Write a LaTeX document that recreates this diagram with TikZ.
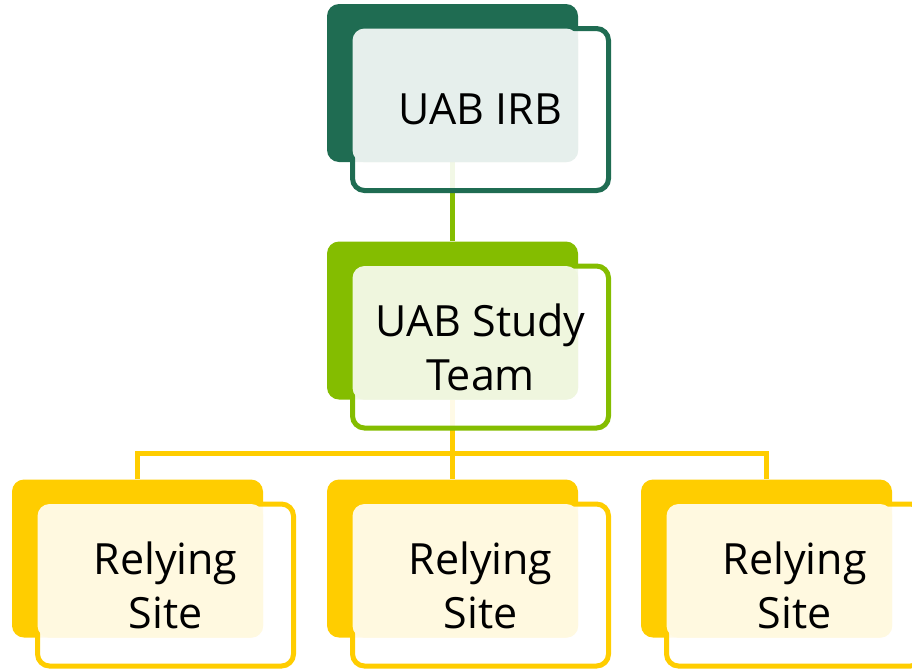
\documentclass[tikz,border=0pt]{standalone}
\usepackage{fontspec}
\setmainfont{Open Sans}
\usepackage{xcolor}
\definecolor{uabgreen}{RGB}{31,108,82}
\definecolor{uablime}{RGB}{132,189,0}
\definecolor{uabgold}{RGB}{255,205,0}
\usetikzlibrary{backgrounds}

\begin{document}
\begin{tikzpicture}[x=1pt,y=-1pt]
	\tikzstyle{back}=[rounded corners=12pt,minimum width=251pt,minimum height=158pt,inner sep=0pt];
	\tikzstyle{front}=[line width=5pt,rounded corners=12pt,minimum width=256pt,minimum height=162pt,inner sep=0pt,fill=white,fill opacity=0.9,draw opacity=1];
	\tikzstyle{txt}=[align=center,inner sep=0pt,font=\fontsize{43}{54}\selectfont,text=black];
	\tikzstyle{link}=[line width=5pt];
	\useasboundingbox (0,0) rectangle (912,670);
	%% UAB IRB
	\node[back,fill=uabgreen] (irbb) at (452.5,83) {};
	\node[front,draw=uabgreen] (irbf) at (480.5,109.5) {};
	\fill[rounded corners=12pt,uabgreen!11] ([shift={(2.5,2.5)}]irbf.north west) rectangle (irbb.south east);
	\node[txt] (irb) at (irbf) {UAB IRB};
	%% UAB Study Team
	\node[back,fill=uablime] (teamb) at (452.5,320.5) {};
	\node[front,draw=uablime] (teamf) at (480.5,347) {};
	\fill[rounded corners=12pt,uablime!13] ([shift={(2.5,2.5)}]teamf.north west) rectangle (teamb.south east);
	\node[txt] (team) at (teamf) {UAB Study\\Team};
	%% Relying Sites
	\foreach \i/\x in {1/137.5,2/452.5,3/766.5}{
		\node[back,fill=uabgold] (site\i b) at (\x,558.5) {};
		\node[front,draw=uabgold] (site\i f) at (\x+28,585) {};
		\fill[rounded corners=12pt,uabgold!12] ([shift={(2.5,2.5)}]site\i f.north west) rectangle (site\i b.south east);
		\node[txt] (site\i) at (site\i f) {Relying\\Site};
	}
	%% Connectors
	\coordinate (bus) at (452.5,453);
	\begin{pgfonlayer}{background}
		\draw[link,uablime] (irbb.south) -- (teamb.north);
		\draw[link,uabgold] (teamb.south) -- (site2b.north);
		\draw[link,uabgold] (site1b.north) |- (bus) -| (site3b.north);
	\end{pgfonlayer}
\end{tikzpicture}
\end{document}
